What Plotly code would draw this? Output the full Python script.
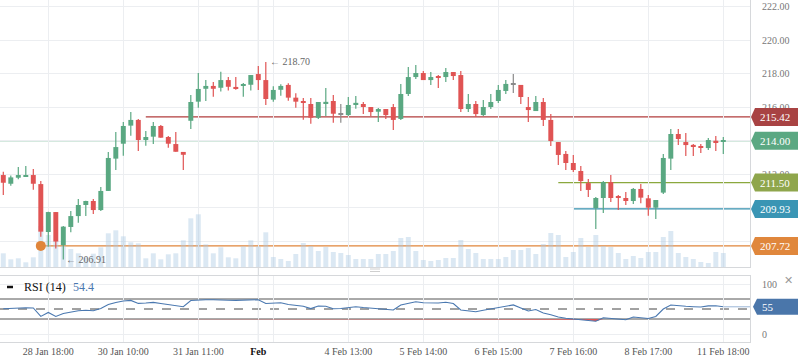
import plotly.graph_objects as go

# ---------------- data ----------------
opens = [211.95, 211.43, 211.79, 211.87, 211.95, 211.41, 208.55, 209.74, 207.76, 208.85,
         209.50, 210.16, 210.40, 209.86, 211.00, 212.93, 213.82, 214.90, 215.24, 214.04,
         214.24, 214.88, 214.22, 213.80, 213.33, 215.19, 216.33, 217.10, 217.27, 217.16,
         217.62, 217.21, 217.27, 217.34, 217.98, 217.62, 216.45, 217.04, 217.33, 216.57,
         216.31, 216.19, 215.37, 216.25, 216.37, 215.55, 215.53, 216.19, 216.19, 216.01,
         215.73, 215.89, 216.01, 215.30, 216.79, 217.80, 218.04, 217.62, 217.80, 217.80,
         218.10, 217.92, 215.89, 216.19, 215.53, 216.01, 216.37, 216.97, 217.37, 217.33,
         216.01, 215.77, 216.31, 215.24, 213.92, 213.21, 212.67, 212.19, 211.47, 209.98,
         210.58, 211.53, 210.64, 210.58, 210.40, 211.12, 210.56, 210.00, 210.90, 212.93,
         214.40, 213.92, 213.74, 213.68, 213.56, 214.00, 213.94]
highs = [212.15, 211.93, 212.43, 212.49, 212.31, 211.59, 209.76, 209.74, 208.91, 209.80,
         210.52, 210.42, 210.52, 211.24, 213.33, 214.52, 215.12, 215.71, 215.30, 214.58,
         215.12, 214.94, 214.28, 214.52, 213.33, 216.73, 218.04, 217.62, 217.51, 218.12,
         217.80, 217.80, 217.44, 217.92, 218.46, 218.70, 217.25, 217.37, 217.43, 216.83,
         216.55, 216.55, 216.31, 217.15, 216.73, 216.19, 216.61, 216.67, 216.31, 216.01,
         215.95, 215.89, 216.19, 217.39, 218.40, 218.52, 218.16, 218.10, 217.92, 218.34,
         218.10, 218.16, 216.79, 216.37, 216.43, 216.79, 217.33, 217.62, 217.98, 217.33,
         216.61, 216.67, 216.55, 215.59, 213.92, 213.39, 213.15, 212.49, 211.71, 210.64,
         211.59, 211.95, 210.76, 210.94, 211.18, 211.41, 210.76, 210.46, 213.21, 214.70,
         214.70, 214.46, 213.80, 213.80, 214.16, 214.28, 214.22]
lows = [210.76, 211.31, 211.70, 211.85, 211.07, 208.27, 207.67, 207.56, 206.91, 208.53,
        209.10, 209.50, 209.62, 209.80, 211.00, 212.25, 213.10, 214.30, 213.39, 213.70,
        213.80, 214.18, 213.58, 213.34, 212.25, 214.70, 215.97, 216.37, 216.63, 216.93,
        216.99, 217.04, 216.63, 216.99, 217.03, 216.13, 216.33, 216.69, 216.39, 215.97,
        215.25, 215.01, 215.30, 215.47, 215.07, 215.07, 215.47, 215.91, 215.59, 215.47,
        215.12, 215.30, 214.64, 215.24, 216.67, 217.68, 217.62, 217.33, 217.15, 217.51,
        217.62, 215.71, 215.71, 215.41, 215.47, 215.89, 216.25, 216.79, 216.85, 216.19,
        215.12, 215.77, 214.88, 213.68, 212.55, 212.25, 212.13, 211.00, 210.64, 208.73,
        209.68, 210.34, 209.86, 210.16, 210.22, 210.26, 209.52, 209.32, 210.82, 212.25,
        213.74, 213.09, 213.09, 213.27, 213.44, 213.39, 213.21]
closes = [211.49, 211.81, 211.95, 211.93, 211.43, 208.57, 209.74, 207.98, 208.87, 209.50,
          210.16, 210.40, 209.86, 211.00, 212.97, 213.62, 214.88, 215.24, 214.04, 214.22,
          214.88, 214.18, 213.82, 213.34, 213.16, 216.31, 217.09, 217.27, 217.10, 217.62,
          217.22, 217.13, 217.33, 217.92, 217.62, 216.49, 217.03, 217.27, 216.57, 216.33,
          216.27, 215.37, 216.31, 216.31, 215.61, 215.55, 216.13, 216.25, 216.01, 215.71,
          215.89, 215.53, 215.24, 216.79, 217.80, 218.04, 217.62, 217.80, 217.76, 218.10,
          217.86, 215.89, 216.19, 215.59, 216.01, 216.31, 217.03, 217.39, 217.37, 216.61,
          215.83, 216.31, 215.24, 213.98, 213.15, 212.67, 212.25, 211.59, 211.06, 210.58,
          211.53, 210.58, 210.60, 210.40, 211.12, 210.60, 210.00, 210.46, 212.97, 214.40,
          214.10, 213.74, 213.68, 213.60, 214.04, 213.92, 214.00]
volumes = [137, 77, 87, 47, 97, 410, 320, 260, 210, 180,
           137, 97, 133, 197, 337, 367, 307, 247, 237, 87,
           137, 77, 127, 137, 267, 487, 527, 227, 137, 197,
           97, 87, 207, 267, 207, 347, 100, 80, 60, 130,
           240, 210, 160, 200, 150, 140, 120, 80, 80, 80,
           130, 130, 160, 290, 300, 160, 70, 60, 70, 90,
           90, 270, 180, 140, 80, 80, 80, 100, 170, 170,
           190, 130, 230, 340, 320, 100, 150, 290, 200, 320,
           210, 200, 140, 80, 110, 90, 150, 150, 300, 360,
           140, 100, 80, 50, 40, 150, 140]
rsi = [50.6, 51.5, 52.5, 52.6, 52.0, 35.2, 43.2, 35.2, 41.0, 44.0,
       46.6, 47.6, 46.6, 50.8, 59.0, 63.0, 66.0, 67.2, 61.2, 62.0,
       63.2, 61.0, 58.6, 56.5, 54.6, 67.0, 68.4, 68.6, 68.4, 68.6,
       67.4, 67.2, 67.4, 68.0, 68.6, 61.0, 62.0, 62.6, 59.0, 57.5,
       55.5, 50.8, 56.0, 55.6, 50.6, 51.0, 53.0, 54.6, 53.0, 52.0,
       51.5, 50.0, 48.0, 58.0, 62.0, 64.6, 62.5, 62.0, 62.0, 63.5,
       61.0, 48.0, 46.0, 44.6, 47.5, 50.5, 53.0, 56.6, 58.2, 52.0,
       46.0, 49.0, 42.0, 38.4, 34.0, 31.5, 30.0, 28.6, 27.4, 25.6,
       32.5, 31.0, 29.5, 28.6, 34.0, 33.0, 31.0, 35.0, 50.0, 58.0,
       57.5, 55.5, 54.6, 54.0, 56.2, 56.5, 54.4]

tick_idx = [6, 16, 26, 34, 36, 46, 56, 66, 76, 86, 96]
tick_labels = ["28 Jan 18:00", "30 Jan 10:00", "31 Jan 11:00",
               "<span style='color:#111'><b>Feb</b></span>", "",
               "4 Feb 13:00", "5 Feb 14:00", "6 Feb 15:00", "7 Feb 16:00",
               "8 Feb 17:00", "11 Feb 18:00"]
feb_idx = 34

price_ticks = [208, 210, 212, 214, 216, 218, 220, 222]

level_values = [215.42, 214.00, 211.50, 209.93, 207.72]
level_start = [19, -0.44, 74, 76, 5]
level_line_colors = ["#b23c3c", "#5aa67f", "#8ba83e", "#3590ae", "#e0853a"]
level_tag_colors = ["#a84343", "#5ba882", "#8fa64c", "#3a95b4", "#e0873c"]

hi_idx, hi_val = 35, 218.70
lo_idx, lo_val = 8, 206.91
marker_idx, marker_val = 5, 207.72

rsi_label = "RSI (14)"
rsi_value_text = "54.4"
rsi_tag_text = "55"
rsi_levels = [70, 30]
rsi_mid = 50

# ---------------- layout constants ----------------
W, H = 798, 363
ML, MR, MT, MB = 0, 48, 0, 21
PW = W - ML - MR
PH = H - MT - MB
XR = [-0.44, 99.56]
PRICE_R = [206.46, 222.40]
VOL_R = [0, 2670]
RSI_R = [-16, 116]
main_dom = [1 - 267 / PH, 1]
rsi_dom = [0, 66 / PH]

GREEN, RED, GRAY = "#5aa882", "#e05454", "#8a8a8a"
SERIF = "Liberation Serif"

n = len(opens)
idx = list(range(n))

fig = go.Figure()

fig.add_trace(go.Bar(x=idx, y=volumes, xaxis="x", yaxis="y", width=0.66,
                     marker=dict(color="rgba(170,200,226,0.42)", line=dict(width=0)),
                     hoverinfo="skip", showlegend=False))

cols = []
for o, c in zip(opens, closes):
    cols.append(GREEN if c > o else (RED if c < o else GRAY))

base = [min(o, c) for o, c in zip(opens, closes)]
hgt = [max(abs(c - o), 0.07) for o, c in zip(opens, closes)]
fig.add_trace(go.Bar(x=idx, y=hgt, base=base, xaxis="x", yaxis="y3", width=0.66,
                     marker=dict(color=cols, line=dict(width=0)),
                     hoverinfo="skip", showlegend=False))

for colr in (GREEN, RED, GRAY):
    wx, wy = [], []
    for i in idx:
        if cols[i] == colr:
            wx += [i, i, None]
            wy += [lows[i], highs[i], None]
    if wx:
        fig.add_trace(go.Scatter(x=wx, y=wy, mode="lines", xaxis="x", yaxis="y3",
                                 line=dict(color=colr, width=1.2),
                                 hoverinfo="skip", showlegend=False))

fig.add_trace(go.Scatter(x=[marker_idx], y=[marker_val], mode="markers", xaxis="x", yaxis="y3",
                         marker=dict(color="#e0853a", size=10), hoverinfo="skip", showlegend=False))

fig.add_trace(go.Scatter(x=idx, y=[rsi_levels[1]] * n, mode="lines", xaxis="x2", yaxis="y2",
                         line=dict(width=0), hoverinfo="skip", showlegend=False))
fig.add_trace(go.Scatter(x=idx, y=[min(r, rsi_levels[1]) for r in rsi], mode="lines",
                         xaxis="x2", yaxis="y2", fill="tonexty", fillcolor="#e05454",
                         line=dict(width=0), hoverinfo="skip", showlegend=False))
fig.add_trace(go.Scatter(x=idx, y=rsi, mode="lines", xaxis="x2", yaxis="y2",
                         line=dict(color="#4a78b0", width=1.1),
                         hoverinfo="skip", showlegend=False))

shapes = []
shapes.append(dict(type="line", xref="x", yref="paper", x0=feb_idx, x1=feb_idx, y0=0, y1=1,
                   line=dict(color="#d3d6da", width=1), layer="below"))
for v, s, c in zip(level_values, level_start, level_line_colors):
    shapes.append(dict(type="line", xref="x", yref="y3", x0=s, x1=XR[1], y0=v, y1=v,
                       line=dict(color=c, width=1.3), layer="below"))
for v, c in zip(level_values, level_tag_colors):
    shapes.append(dict(type="path", xref="paper", yref="y3", xsizemode="pixel",
                       ysizemode="pixel", xanchor=1, yanchor=v,
                       path="M 1 0 L 5 9 L 60 9 L 60 -9 L 5 -9 Z",
                       fillcolor=c, line=dict(width=0), layer="above"))
for lv in rsi_levels:
    shapes.append(dict(type="line", xref="x2 domain", yref="y2", x0=0, x1=1, y0=lv, y1=lv,
                       line=dict(color="#555", width=1), layer="below"))
shapes.append(dict(type="line", xref="x2 domain", yref="y2", x0=0, x1=1, y0=rsi_mid, y1=rsi_mid,
                   line=dict(color="#444", width=1, dash="dash"), layer="below"))
shapes.append(dict(type="line", xref="x2", yref="y2", x0=idx[-1], x1=XR[1], y0=rsi[-1], y1=rsi[-1],
                   line=dict(color="#9bb6d6", width=1), layer="below"))
shapes.append(dict(type="path", xref="paper", yref="y2", xsizemode="pixel", ysizemode="pixel",
                   xanchor=1, yanchor=rsi[-1], path="M 3 0 L 7 8 L 60 8 L 60 -8 L 7 -8 Z",
                   fillcolor="#4a76aa", line=dict(width=0), layer="above"))
shapes.append(dict(type="line", xref="paper", yref="paper", x0=7 / PW, x1=13 / PW,
                   y0=1 - 287 / PH, y1=1 - 287 / PH, line=dict(color="#111", width=2.5)))
for py in (269, 271.5):
    shapes.append(dict(type="line", xref="paper", yref="paper", x0=370 / PW, x1=380 / PW,
                       y0=1 - py / PH, y1=1 - py / PH, line=dict(color="#cfcfcf", width=1)))

annotations = []
for v in level_values:
    annotations.append(dict(xref="paper", yref="y3", x=1, y=v, xanchor="left", yanchor="middle",
                            xshift=8, text=f"{v:.2f}", showarrow=False,
                            font=dict(family=SERIF, size=11, color="white")))
annotations.append(dict(xref="paper", yref="y2", x=1, y=rsi[-1], xanchor="left", yanchor="middle",
                        xshift=10, text=rsi_tag_text, showarrow=False,
                        font=dict(family=SERIF, size=11, color="white")))
annotations.append(dict(xref="x", yref="y3", x=hi_idx, y=hi_val, xanchor="left", yanchor="middle",
                        xshift=2, text=f"← {hi_val:.2f}", showarrow=False,
                        font=dict(family=SERIF, size=10, color="#666")))
annotations.append(dict(xref="x", yref="y3", x=lo_idx, y=lo_val, xanchor="left", yanchor="middle",
                        xshift=1, text=f"← {lo_val:.2f}", showarrow=False,
                        font=dict(family=SERIF, size=10, color="#666")))
annotations.append(dict(xref="paper", yref="paper", x=22 / PW, y=1 - 287 / PH, xanchor="left",
                        yanchor="middle", text=rsi_label, showarrow=False,
                        font=dict(family=SERIF, size=12, color="#111")))
annotations.append(dict(xref="paper", yref="paper", x=71 / PW, y=1 - 287 / PH, xanchor="left",
                        yanchor="middle", text=rsi_value_text, showarrow=False,
                        font=dict(family=SERIF, size=12, color="#4a78b0")))
annotations.append(dict(xref="paper", yref="paper", x=788 / PW, y=1 - 280 / PH, xanchor="center",
                        yanchor="middle", text="✕", showarrow=False,
                        font=dict(family="DejaVu Sans", size=11, color="#999")))

hidden = set()
for t in price_ticks:
    for v in level_values:
        if abs(t - v) < 0.35:
            hidden.add(t)
price_text = ["" if t in hidden else f"{t:.2f}" for t in price_ticks]

grid = "#eceef1"
axline = "#d6d8db"
fig.update_layout(
    width=W, height=H, margin=dict(l=ML, r=MR, t=MT, b=MB),
    paper_bgcolor="white", plot_bgcolor="white", barmode="overlay", showlegend=False,
    xaxis=dict(domain=[0, 1], anchor="y", range=XR, tickmode="array", tickvals=tick_idx,
               showticklabels=False, ticks="", showgrid=True, gridcolor=grid, zeroline=False,
               showline=True, linecolor=axline, linewidth=1),
    yaxis=dict(domain=main_dom, anchor="x", range=VOL_R, visible=False, showgrid=False),
    yaxis3=dict(overlaying="y", anchor="x", side="right", range=PRICE_R, tickmode="array",
                tickvals=price_ticks, ticktext=price_text, showgrid=True, gridcolor=grid,
                zeroline=False, showline=True, linecolor=axline, ticks="",
                ticklabelstandoff=9,
                tickfont=dict(family=SERIF, size=10, color="#777")),
    xaxis2=dict(domain=[0, 1], anchor="y2", range=XR, tickmode="array", tickvals=tick_idx,
                ticktext=tick_labels, showgrid=True, gridcolor=grid, zeroline=False,
                showline=True, mirror=True, linecolor=axline, ticks="",
                tickfont=dict(family=SERIF, size=10, color="#555")),
    yaxis2=dict(domain=rsi_dom, anchor="x2", side="right", range=RSI_R, tickmode="array",
                tickvals=[0, 100], ticktext=["0", "100"], showgrid=True, gridcolor=grid,
                zeroline=False, showline=True, linecolor=axline, ticks="",
                ticklabelstandoff=9,
                tickfont=dict(family=SERIF, size=10, color="#777")),
    shapes=shapes, annotations=annotations,
)

fig.write_html("out.html", config={"displayModeBar": False},
               post_script="document.body.style.margin='0px';")
